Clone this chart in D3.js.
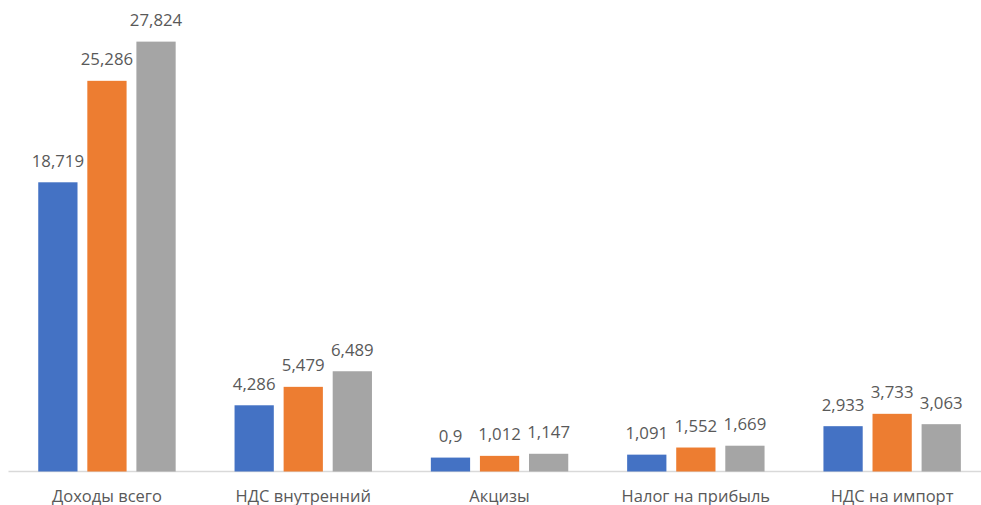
<!DOCTYPE html>
<html>
<head>
<meta charset="utf-8">
<script src="https://cdn.jsdelivr.net/npm/d3@7"></script>
<style>
  html, body { margin: 0; padding: 0; background: #fff; }
  svg { display: block; }
  text { font-family: "Open Sans", "Noto Sans", sans-serif; fill: #595959; }
</style>
</head>
<body>
<svg id="chart" width="981" height="505"></svg>
<script>
// Budget revenue items, three periods per item
const categories = ["Доходы всего", "НДС внутренний", "Акцизы", "Налог на прибыль", "НДС на импорт"];
const seriesNames = ["s1", "s2", "s3"];
const series1 = [18.719, 4.286, 0.9, 1.091, 2.933];
const series2 = [25.286, 5.479, 1.012, 1.552, 3.733];
const series3 = [27.824, 6.489, 1.147, 1.669, 3.063];
const labels1 = ["18,719", "4,286", "0,9", "1,091", "2,933"];
const labels2 = ["25,286", "5,479", "1,012", "1,552", "3,733"];
const labels3 = ["27,824", "6,489", "1,147", "1,669", "3,063"];
const colors = ["#4472C4", "#ED7D31", "#A5A5A5"];

const seriesValues = [series1, series2, series3];
const seriesLabels = [labels1, labels2, labels3];

const svg = d3.select("#chart");

const x0 = d3.scaleBand()
  .domain(categories)
  .range([8.8, 990.3])
  .paddingInner(0.3)
  .paddingOuter(0.15);

// bars inside a group are separated by a small gap
const x1 = d3.scaleBand()
  .domain(seriesNames)
  .range([0, x0.bandwidth()])
  .paddingInner(0.2);

const y = d3.scaleLinear()
  .domain([0, 30])
  .range([471.5, 8]);

// baseline
svg.append("line")
  .attr("x1", 8.5).attr("x2", 981)
  .attr("y1", y(0)).attr("y2", y(0))
  .attr("stroke", "#d9d9d9").attr("stroke-width", 1.5);

const rows = categories.map((c, i) => ({
  cat: c,
  vals: seriesNames.map((s, j) => ({ s, j, v: seriesValues[j][i], label: seriesLabels[j][i] }))
}));

const groups = svg.selectAll("g.cat")
  .data(rows)
  .join("g")
  .attr("class", "cat")
  .attr("transform", d => `translate(${x0(d.cat)},0)`);

groups.selectAll("rect")
  .data(d => d.vals)
  .join("rect")
  .attr("x", d => x1(d.s))
  .attr("width", x1.bandwidth())
  .attr("y", d => y(d.v))
  .attr("height", d => y(0) - y(d.v))
  .attr("fill", d => colors[d.j]);

groups.selectAll("text.val")
  .data(d => d.vals)
  .join("text")
  .attr("class", "val")
  .attr("x", d => x1(d.s) + x1.bandwidth() / 2)
  .attr("y", d => y(d.v) - 15.5)
  .attr("text-anchor", "middle")
  .attr("font-size", 16.8)
  .text(d => d.label);

// category axis labels
const xAxis = d3.axisBottom(x0).tickSize(0).tickPadding(0);
const axisG = svg.append("g")
  .attr("transform", `translate(0,${y(0)})`)
  .call(xAxis);
axisG.select(".domain").remove();
axisG.selectAll("text")
  .attr("dy", null)
  .attr("y", 30)
  .attr("font-size", 16.5)
  .style("font-family", "\"Open Sans\", \"Noto Sans\", sans-serif")
  .attr("fill", "#595959");
</script>
</body>
</html>
